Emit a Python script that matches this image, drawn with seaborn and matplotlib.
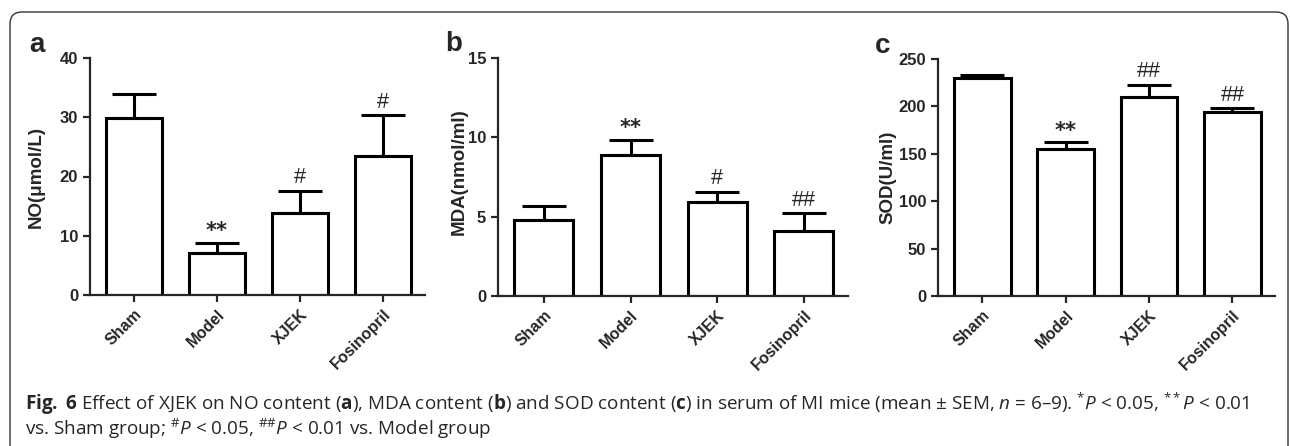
import matplotlib
matplotlib.use("Agg")
import matplotlib.pyplot as plt
from matplotlib.patches import FancyBboxPatch
import seaborn as sns
import numpy as np

# -----------------------------
# DATA
# -----------------------------
groups = ['Sham', 'Model', 'XJEK', 'Fosinopril']

no_mean = [29.8, 7.1, 13.8, 23.4]
no_sem = [4.1, 1.7, 3.8, 6.9]
no_marks = ['', '**', '#', '#']

mda_mean = [4.8, 8.9, 5.9, 4.1]
mda_sem = [0.85, 0.95, 0.65, 1.1]
mda_marks = ['', '**', '#', '##']

sod_mean = [230, 155, 210, 194.5]
sod_sem = [3.5, 7.0, 13.0, 3.5]
sod_marks = ['', '**', '##', '##']

panels = [
    ('a', no_mean, no_sem, no_marks, 'NO(μmol/L)', 40, 10),
    ('b', mda_mean, mda_sem, mda_marks, 'MDA(nmol/ml)', 15, 5),
    ('c', sod_mean, sod_sem, sod_marks, 'SOD(U/ml)', 250, 50),
]

# axes boxes in pixels: left, right, top, bottom
boxes = [(90, 425, 58, 295), (498, 848, 58, 296), (938, 1275, 59, 296)]
letter_pos = [(29, 52), (445, 51), (875, 53)]
ylabel_pos = [(36, 177), (459, 172), (888, 177)]

# -----------------------------
# STYLE
# -----------------------------
sns.set_style("ticks")
plt.rcParams['font.family'] = ['Liberation Sans', 'DejaVu Sans']
plt.rcParams['mathtext.fontset'] = 'custom'
plt.rcParams['mathtext.rm'] = 'Open Sans'
plt.rcParams['mathtext.it'] = 'Open Sans:italic'
plt.rcParams['mathtext.bf'] = 'Open Sans:bold'

W, H = 1290, 446
fig = plt.figure(figsize=(W / 100, H / 100), dpi=100)

for (letter, mean, sem, marks, ylab, ymax, ystep), (l, r, t, b), lp, yp in zip(
        panels, boxes, letter_pos, ylabel_pos):
    ax = fig.add_axes([l / W, 1 - b / H, (r - l) / W, (b - t) / H])
    sns.barplot(x=groups, y=mean, color='white', edgecolor='black',
                linewidth=2.2, width=0.68, errorbar=None, ax=ax)
    for p in ax.patches:
        p.set_facecolor('white')
    x = np.arange(len(groups))
    ax.errorbar(x, mean, yerr=[np.zeros(len(sem)), sem], fmt='none',
                ecolor='black', elinewidth=2.2, capsize=16, capthick=2.2,
                zorder=1)
    for xi, m, s, mk in zip(x, mean, sem, marks):
        if not mk:
            continue
        if mk.startswith('*'):
            ax.annotate(mk, (xi, m + s), xytext=(0, 1),
                        textcoords='offset points', ha='center', va='bottom',
                        fontsize=15, fontweight='bold', family='DejaVu Sans')
        else:
            ax.annotate(mk, (xi, m + s), xytext=(0, 2),
                        textcoords='offset points', ha='center', va='bottom',
                        fontsize=15.5)

    ax.set_xlim(-0.53, 3.51)
    ax.set_ylim(0, ymax)
    ax.set_yticks(np.arange(0, ymax + 1e-9, ystep))
    ax.set_xlabel('')
    ax.set_ylabel('')
    sns.despine(ax=ax)
    for sp in ('left', 'bottom'):
        ax.spines[sp].set_linewidth(1.6)
    ax.tick_params(axis='both', width=1.6, length=5, labelsize=12)
    for lab in ax.get_yticklabels():
        lab.set_fontweight('bold')
    ax.set_xticks(x)
    ax.set_xticklabels(groups, rotation=45, ha='right',
                       rotation_mode='anchor', fontweight='bold', fontsize=11.5)

    fig.text(yp[0] / W, 1 - yp[1] / H, ylab, rotation=90,
             ha='center', va='center', fontsize=13.5, fontweight='bold')
    fig.text(lp[0] / W, 1 - lp[1] / H, letter, ha='left', va='baseline',
             fontsize=20, fontweight='bold')

# caption
cap_font = ['Open Sans', 'DejaVu Sans']
line1 = (r"$\mathbf{Fig.}$ $\mathbf{6}$ Effect of XJEK on NO content ($\mathbf{a}$), "
         r"MDA content ($\mathbf{b}$) and SOD content ($\mathbf{c}$) in serum of "
         r"MI mice (mean ± SEM, $n$ = 6–9). ${}^{*}P$ < 0.05, ${}^{**}P$ < 0.01")
line2 = r"vs. Sham group; ${}^{\#}P$ < 0.05, ${}^{\#\#}P$ < 0.01 vs. Model group"
fig.text(25 / W, 1 - 410 / H, line1, ha='left', va='baseline',
         fontsize=13.6, family=cap_font)
fig.text(25 / W, 1 - 435 / H, line2, ha='left', va='baseline',
         fontsize=13.6, family=cap_font)

# rounded frame around the panels
frame = FancyBboxPatch((0.10, -0.3), 12.78, 4.34 + 0.3,
                       boxstyle='round,pad=0,rounding_size=0.12',
                       transform=fig.dpi_scale_trans, facecolor='none',
                       edgecolor='#333333', linewidth=1.0)
fig.patches.append(frame)

fig.savefig('out.png', dpi=100)
